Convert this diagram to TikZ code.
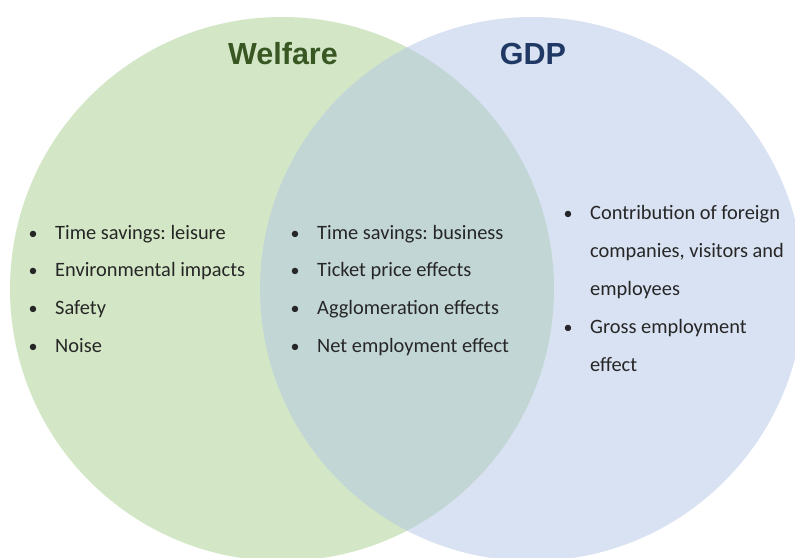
\documentclass[tikz,border=0pt]{standalone}
\usepackage{fontspec}
\setmainfont{Carlito}
\newfontfamily\titlefont{Liberation Sans}
\definecolor{wgreen}{HTML}{A9D18E}
\definecolor{gblue}{HTML}{B4C7E7}
\definecolor{wtitle}{HTML}{385723}
\definecolor{gtitle}{HTML}{203864}
\frenchspacing
\begin{document}
\begin{tikzpicture}[x=1pt,y=-1pt,
  title/.style={inner sep=0pt, anchor=base, font=\titlefont\bfseries\fontsize{30.5}{34}\selectfont},
  item/.style={inner sep=0pt, anchor=base west, text=black!85, font=\fontsize{20.4}{24}\selectfont},
  bul/.style={inner sep=0pt, anchor=base, text=black!85, font=\fontsize{18}{24}\selectfont}]
\useasboundingbox (0,0) rectangle (795,557);
\clip (0,0) rectangle (795,557);
\fill[white] (0,0) rectangle (795,557);
\fill[wgreen, fill opacity=0.5] (282,289) circle[radius=272];
\fill[gblue, fill opacity=0.5] (532,289) circle[radius=272];
\node[title, text=wtitle] (welfare) at (283,64) {Welfare};
\node[title, text=gtitle] (gdp) at (533,64) {GDP};
% left list
\foreach \t [count=\i] in {Time savings: leisure, Environmental impacts, Safety, Noise}{
  \node[bul] (lb\i) at (33,239+37.7*\i-37.7) {•};
  \node[item] (l\i) at (55,239+37.7*\i-37.7) {\t};
}
% middle list
\foreach \t [count=\i] in {Time savings: business, Ticket price effects, Agglomeration effects, Net employment effect}{
  \node[bul] (mb\i) at (295,239+37.7*\i-37.7) {•};
  \node[item] (m\i) at (317,239+37.7*\i-37.7) {\t};
}
% right list
\node[bul] (rb1) at (568,219) {•};
\node[item] (r1) at (590,219) {Contribution of foreign};
\node[item] (r2) at (590,257) {companies, visitors and};
\node[item] (r3) at (590,295) {employees};
\node[bul] (rb2) at (568,333) {•};
\node[item] (r4) at (590,333) {Gross employment};
\node[item] (r5) at (590,371) {effect};
\end{tikzpicture}
\end{document}
